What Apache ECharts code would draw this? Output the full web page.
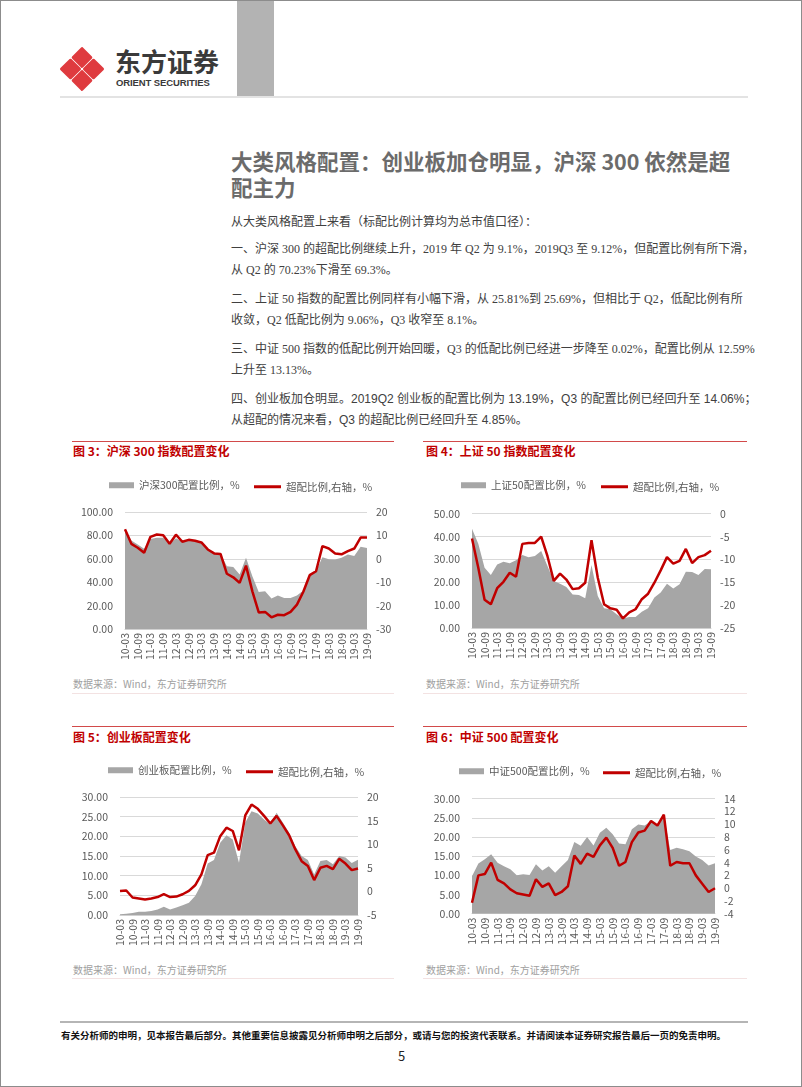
<!DOCTYPE html>
<html>
<head>
<meta charset="utf-8">
<script src="https://cdn.jsdelivr.net/npm/echarts@6/dist/echarts.min.js"></script>
<style>
html,body{margin:0;padding:0;background:#fff;}
#page{position:relative;width:802px;height:1087px;box-sizing:border-box;border:1px solid #8c8c8c;overflow:hidden;font-family:"Noto Sans CJK SC",sans-serif;}
.abs{position:absolute;white-space:nowrap;}
#title{left:230px;top:147px;font-size:21.5px;line-height:26px;font-weight:bold;color:#6b6b6b;}
#body{left:230px;top:209px;font-size:12px;line-height:21.5px;color:#404040;}
#body p{margin:0 0 7px 0;}
.serif{font-family:"Liberation Serif","Noto Sans CJK SC",serif;}
.sans{font-family:"Liberation Sans","Noto Sans CJK SC",sans-serif;}
.ftitle{font-size:12px;font-weight:bold;color:#c00000;line-height:16px;}
.src{font-size:10px;color:#a0a0a0;line-height:14px;}
.rule{position:absolute;height:1px;background:#d24a4a;}
.frule{position:absolute;height:1px;background:#f3e2e2;}
.chart{position:absolute;width:345px;height:200px;}
</style>
</head>
<body>
<div id="page">
  <!-- header -->
  <div style="position:absolute;left:236px;top:0;width:37px;height:95px;background:#b3b3b3;"></div>
  <div style="position:absolute;left:59px;top:95px;width:688px;height:2px;background:#e3e3e3;"></div>
  <svg style="position:absolute;left:58px;top:45px;" width="46" height="46" viewBox="0 0 44 44">
    <g fill="#df3b3f" stroke="#df3b3f" stroke-width="2.5" stroke-linejoin="round">
      <polygon points="22,2.2 30.6,11 22,19.8 13.4,11"/>
      <polygon points="33,13.4 41.8,22 33,30.6 24.2,22"/>
      <polygon points="22,24.2 30.6,33 22,41.8 13.4,33"/>
      <polygon points="11,13.4 19.8,22 11,30.6 2.2,22"/>
    </g>
  </svg>
  <div class="abs" style="left:114px;top:44px;font-size:26px;line-height:32px;font-weight:bold;color:#3a3a3a;">东方证券</div>
  <div class="abs" style="left:115px;top:76px;font-size:9.5px;line-height:11px;font-weight:bold;color:#3a3a3a;font-family:'Liberation Sans',sans-serif;letter-spacing:-0.1px;">ORIENT SECURITIES</div>

  <!-- title & text -->
  <div id="title" class="abs">大类风格配置：创业板加仓明显，沪深 300 依然是超<br>配主力</div>
  <div id="body" class="abs">
    <p>从大类风格配置上来看（标配比例计算均为总市值口径）：</p>
    <p class="serif">一、沪深 300 的超配比例继续上升，2019 年 Q2 为 9.1%，2019Q3 至 9.12%，但配置比例有所下滑，<br>从 Q2 的 70.23%下滑至 69.3%。</p>
    <p class="serif">二、上证 50 指数的配置比例同样有小幅下滑，从 25.81%到 25.69%，但相比于 Q2，低配比例有所<br>收敛，Q2 低配比例为 9.06%，Q3 收窄至 8.1%。</p>
    <p class="serif">三、中证 500 指数的低配比例开始回暖，Q3 的低配比例已经进一步降至 0.02%，配置比例从 12.59%<br>上升至 13.13%。</p>
    <p class="sans">四、创业板加仓明显。2019Q2 创业板的配置比例为 13.19%，Q3 的配置比例已经回升至 14.06%；<br>从超配的情况来看，Q3 的超配比例已经回升至 4.85%。</p>
  </div>

  <!-- figure frames -->
  <div class="rule" style="left:71px;top:440px;width:322px;"></div>
  <div class="rule" style="left:422px;top:440px;width:324px;"></div>
  <div class="rule" style="left:71px;top:725px;width:322px;"></div>
  <div class="rule" style="left:422px;top:725px;width:324px;"></div>
  <div class="frule" style="left:71px;top:692px;width:322px;"></div>
  <div class="frule" style="left:422px;top:692px;width:324px;"></div>
  <div class="frule" style="left:71px;top:977px;width:322px;"></div>
  <div class="frule" style="left:422px;top:977px;width:324px;"></div>

  <div class="abs ftitle" style="left:72px;top:442px;">图 3：沪深 300 指数配置变化</div>
  <div class="abs ftitle" style="left:425px;top:442px;">图 4：上证 50 指数配置变化</div>
  <div class="abs ftitle" style="left:72px;top:728px;">图 5：创业板配置变化</div>
  <div class="abs ftitle" style="left:425px;top:728px;">图 6：中证 500 配置变化</div>

  <div class="abs src" style="left:72px;top:676px;">数据来源：Wind，东方证券研究所</div>
  <div class="abs src" style="left:425px;top:676px;">数据来源：Wind，东方证券研究所</div>
  <div class="abs src" style="left:72px;top:962px;">数据来源：Wind，东方证券研究所</div>
  <div class="abs src" style="left:425px;top:962px;">数据来源：Wind，东方证券研究所</div>

  <div id="c1" class="chart" style="left:60px;top:470px;"></div>
  <div id="c2" class="chart" style="left:415px;top:470px;"></div>
  <div id="c3" class="chart" style="left:60px;top:755px;"></div>
  <div id="c4" class="chart" style="left:415px;top:755px;"></div>

  <!-- footer -->
  <div style="position:absolute;left:59px;top:1020px;width:688px;height:2px;background:#b5b5b5;"></div>
  <div class="abs" style="left:60px;top:1027px;font-size:9.5px;line-height:14px;font-weight:bold;color:#111;">有关分析师的申明，见本报告最后部分。其他重要信息披露见分析师申明之后部分，或请与您的投资代表联系。并请阅读本证券研究报告最后一页的免责申明。</div>
  <div class="abs" style="left:397px;top:1046px;font-size:13px;line-height:18px;color:#222;">5</div>
</div>

<script>
// ---- data ----
const categories = ['10-03','10-06','10-09','10-12','11-03','11-06','11-09','11-12','12-03','12-06','12-09','12-12',
  '13-03','13-06','13-09','13-12','14-03','14-06','14-09','14-12','15-03','15-06','15-09','15-12',
  '16-03','16-06','16-09','16-12','17-03','17-06','17-09','17-12','18-03','18-06','18-09','18-12',
  '19-03','19-06','19-09'];

const hs300Weight = [85,75.7,72.3,68.6,77,78,78,72.9,77.5,74.6,75.7,75,73.4,68,64.6,64.3,53.7,52.9,46.6,60.9,45,31.7,32.3,26,28.6,26.6,26.6,28.6,32.9,45,49.4,61.4,59.7,59.4,60.9,63.7,62.3,70.23,69.3];
const hs300Over = [12.6,6.4,4.7,2.6,9.4,10.4,10.1,6.4,10.3,7.3,8.1,7.7,7.0,4.0,2.3,2.1,-6.4,-7.9,-10.3,-2.9,-13.9,-22.9,-22.7,-25,-23.9,-24.1,-22.7,-19.6,-14.1,-7.0,-5.3,5.4,4.4,2.3,1.9,3.3,4.4,9.1,9.12];

const sz50Weight = [43.4,36.9,26.4,23.2,27.8,29,28.3,29.6,31.9,31,31.5,33.7,27.1,20.6,19.4,17.9,14.7,14.4,13,27.6,14,8.6,8.2,6,4.2,4.8,4.8,7.1,8.6,13.3,15.5,19.4,17.3,19.1,24.6,24.5,23.2,25.81,25.69];
const sz50Over = [-5.4,-11.8,-18.8,-19.8,-16.3,-14.9,-12.9,-13.8,-6.6,-6.4,-6.4,-5.0,-9.3,-14.7,-13.1,-14.4,-16.5,-16.3,-15.1,-5.8,-14,-19.8,-20.7,-21,-22.9,-21.6,-20.9,-18.7,-17.5,-15.1,-12.4,-9.5,-10.9,-10.3,-7.7,-10.8,-9.5,-9.06,-8.1];

const cybWeight = [0.2,0.3,0.5,0.8,0.8,1.0,1.4,2.1,1.4,1.9,2.5,3.1,4.8,7.8,13.1,14,18.4,20.3,19.2,13.3,23.5,26.4,25.8,24.3,23.1,26,23.5,20.9,17.5,15,14,10.3,13.7,14,12.9,15,14.6,13.19,14.06];
const cybOver = [0.1,0.2,-1.3,-1.5,-1.7,-1.5,-1.2,-0.6,-1.2,-1.1,-0.6,0.1,1.3,3.6,7.7,8.2,11.7,13.5,12.8,8.7,16.1,18.4,17.5,16,14.4,16,14,11.9,8.9,6.4,5.4,2.4,5.0,5.4,4.7,6.9,5.9,4.5,4.85];

const zz500Weight = [9.8,13.1,14.2,15.5,13.3,12.4,11.6,10,10.3,10.1,12.9,11.3,12.4,10.7,12.4,14,18.7,17.7,20,17.8,21.1,22.4,20.7,18.3,18.1,22,23.3,23,24.2,23,25.7,16.6,17.2,16.8,16.3,14.9,14,12.59,13.13];
const zz500Over = [-2.3,2.0,2.2,4.0,1.3,0.75,-0.2,-0.8,-1.0,-1.2,1.4,0.2,0.75,-1.1,-0.6,0.3,5.1,3.8,5.4,4.9,6.7,7.9,6.3,3.5,4.1,7.2,8.7,9.0,10.5,9.8,11.5,3.5,4.1,3.9,3.9,2.0,0.7,-0.6,-0.02];

// axis ranges [min, max, interval]
const hs300LeftAxis = [0,100,20],  hs300RightAxis = [-30,20,10];
const sz50LeftAxis  = [0,50,10],   sz50RightAxis  = [-25,0,5];
const cybLeftAxis   = [0,30,5],    cybRightAxis   = [-5,20,5];
const zz500LeftAxis = [0,30,5],    zz500RightAxis = [-4,14,2];

const overName = '超配比例,右轴，%';

// ---- rendering ----
const FONT = '"Noto Sans CJK SC", sans-serif';
const GRAY = '#a6a6a6', RED = '#c00000', LABEL = '#595959';

function makeChart(id, cfg) {
  const chart = echarts.init(document.getElementById(id), null, {renderer:'canvas'});
  const labelStyle = {fontSize:10.5, color:LABEL, fontFamily:FONT};
  chart.setOption({
    animation:false,
    textStyle:{fontFamily:FONT},
    legend:[
      {data:[{name:cfg.weightName, icon:'rect'}], left:cfg.lg, top:cfg.lt, itemWidth:25, itemHeight:6,
       selectedMode:false, textStyle:labelStyle, padding:0},
      {data:[{name:overName, icon:'rect'}], left:cfg.lr, top:cfg.lt+1.5, itemWidth:27, itemHeight:3,
       selectedMode:false, textStyle:labelStyle, padding:0}
    ],
    grid:{left:cfg.grid[0], top:cfg.grid[1], width:cfg.grid[2], height:cfg.grid[3], containLabel:false},
    xAxis:{type:'category', data:categories, boundaryGap:false,
      axisTick:{show:false}, axisLine:{show:true, lineStyle:{color:'#d0d0d0'}},
      axisLabel:Object.assign({rotate:90, interval:1, margin:4}, labelStyle)},
    yAxis:[
      {type:'value', min:cfg.left[0], max:cfg.left[1], interval:cfg.left[2],
       axisLine:{show:false}, axisTick:{show:false},
       splitLine:{show:true, lineStyle:{color:'#d9d9d9', width:1}},
       axisLabel:Object.assign({margin:12, formatter:v=>v.toFixed(2)}, labelStyle)},
      {type:'value', position:'right', min:cfg.right[0], max:cfg.right[1], interval:cfg.right[2],
       axisLine:{show:false}, axisTick:{show:false}, splitLine:{show:false},
       axisLabel:Object.assign({margin:9}, labelStyle)}
    ],
    series:[
      {name:cfg.weightName, type:'line', data:cfg.weight, symbol:'none',
       lineStyle:{width:0, opacity:0}, itemStyle:{color:GRAY},
       areaStyle:{color:GRAY, opacity:1}, z:1},
      {name:overName, type:'line', yAxisIndex:1, data:cfg.over, symbol:'none',
       lineStyle:{width:2.5, color:RED}, itemStyle:{color:RED}, z:3}
    ]
  });
}

makeChart('c1', {weightName:'沪深300配置比例，%', weight:hs300Weight, over:hs300Over,
  left:hs300LeftAxis, right:hs300RightAxis, grid:[64,41,242,117], lg:48, lr:193, lt:9});
makeChart('c2', {weightName:'上证50配置比例，%', weight:sz50Weight, over:sz50Over,
  left:sz50LeftAxis, right:sz50RightAxis, grid:[56,42.7,239,114.3], lg:45, lr:185, lt:9});
makeChart('c3', {weightName:'创业板配置比例，%', weight:cybWeight, over:cybOver,
  left:cybLeftAxis, right:cybRightAxis, grid:[59,41,238,118], lg:47, lr:185, lt:9});
makeChart('c4', {weightName:'中证500配置比例，%', weight:zz500Weight, over:zz500Over,
  left:zz500LeftAxis, right:zz500RightAxis, grid:[56,42.7,243,115], lg:43, lr:187, lt:10});
</script>
</body>
</html>
